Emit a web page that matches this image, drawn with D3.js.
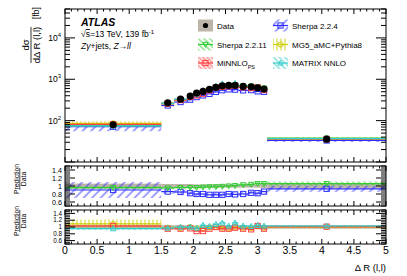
<!DOCTYPE html>
<html>
<head>
<meta charset="utf-8">
<script src="https://cdn.jsdelivr.net/npm/d3@7"></script>
<style>
  body { margin: 0; background: #fff; }
  text { font-family: "Liberation Sans", Arial, sans-serif; fill: #000; }
</style>
</head>
<body>
<script>
const width = 407;
const height = 276;

// binning in Delta R(l,l)
const binEdges = [0, 1.5, 1.7, 1.9, 2.0, 2.1, 2.2, 2.3, 2.4, 2.5, 2.6, 2.7, 2.85, 2.95, 3.05, 3.15, 5];

// measured cross section [fb] and relative uncertainty
const dataValues = [79, 270, 331, 392, 463, 509, 569, 636, 696, 712, 712, 673, 658, 622, 579, 35.6];
const dataErr = [0.06, 0.05, 0.05, 0.05, 0.04, 0.04, 0.04, 0.04, 0.04, 0.04, 0.04, 0.04, 0.04, 0.04, 0.05, 0.05];

// prediction / data ratios and relative band widths
const sherpa224Ratio = [0.90, 0.86, 0.85, 0.82, 0.80, 0.80, 0.78, 0.78, 0.78, 0.80, 0.79, 0.80, 0.83, 0.82, 0.86, 0.93];
const sherpa224Err = [0.22, 0.06, 0.06, 0.06, 0.06, 0.06, 0.06, 0.06, 0.06, 0.06, 0.06, 0.06, 0.06, 0.06, 0.06, 0.08];
const sherpa2211Ratio = [0.96, 0.95, 0.96, 0.96, 0.96, 0.97, 0.98, 0.98, 0.99, 1.00, 1.01, 1.03, 1.04, 1.06, 1.06, 1.06];
const sherpa2211Err = [0.04, 0.04, 0.04, 0.04, 0.04, 0.04, 0.04, 0.04, 0.04, 0.04, 0.04, 0.04, 0.04, 0.04, 0.04, 0.05];
const mg5Ratio = [1.09, 0.98, 0.97, 1.00, 0.96, 0.97, 0.99, 1.00, 0.98, 0.96, 1.00, 0.98, 0.97, 1.02, 0.98, 1.00];
const mg5Err = [0.12, 0.05, 0.05, 0.05, 0.05, 0.05, 0.05, 0.05, 0.05, 0.05, 0.05, 0.05, 0.05, 0.05, 0.05, 0.04];
const minnloRatio = [1.03, 0.95, 0.95, 0.96, 0.88, 0.88, 0.95, 1.00, 0.95, 0.95, 0.98, 0.95, 0.93, 1.03, 0.95, 1.01];
const minnloErr = [0.03, 0.03, 0.03, 0.03, 0.03, 0.03, 0.03, 0.03, 0.03, 0.03, 0.03, 0.03, 0.03, 0.03, 0.03, 0.03];
const matrixRatio = [0.95, 0.97, 1.00, 1.00, 0.97, 1.05, 1.02, 1.08, 1.12, 1.03, 1.12, 1.03, 1.02, 1.05, 1.03, 1.03];
const matrixErr = [0.04, 0.03, 0.03, 0.03, 0.03, 0.03, 0.03, 0.03, 0.03, 0.03, 0.03, 0.03, 0.03, 0.03, 0.03, 0.03];

const xTicks = [0, 0.5, 1, 1.5, 2, 2.5, 3, 3.5, 4, 4.5, 5];
const ratioTicks = [0.6, 0.8, 1, 1.2, 1.4];

const bins = dataValues.map((v, i) => ({
    lo: binEdges[i], hi: binEdges[i + 1], mid: (binEdges[i] + binEdges[i + 1]) / 2,
    v: v, e: dataErr[i]
}));

const svg = d3.select('body').append('svg')
    .attr('width', width)
    .attr('height', height);
const defs = svg.append('defs');

const xL = 65, xR = 386;
const x = d3.scaleLinear().domain([0, 5]).range([xL, xR]);
const yMain = d3.scaleLog().domain([10, 5e4]).range([162, 9]);
const yR1 = d3.scaleLinear().domain([0.5, 1.5]).range([206, 166]);
const yR2 = d3.scaleLinear().domain([0.5, 1.5]).range([244, 210]);

function addHatch(id, color, angle, step) {
    const p = defs.append('pattern')
        .attr('id', id)
        .attr('patternUnits', 'userSpaceOnUse')
        .attr('width', step)
        .attr('height', step)
        .attr('patternTransform', `rotate(${angle})`);
    p.append('line')
        .attr('x1', 1).attr('y1', 0)
        .attr('x2', 1).attr('y2', step)
        .attr('stroke', color)
        .attr('stroke-width', 0.9);
}

const models = [
    { name: 'Sherpa 2.2.4', ratio: sherpa224Ratio, err: sherpa224Err, color: '#2b2bff', hatch: 'h224', angle: 45, step: 6, marker: 'square', panel: 1 },
    { name: 'Sherpa 2.2.11', ratio: sherpa2211Ratio, err: sherpa2211Err, color: '#33cc33', hatch: 'h2211', angle: -45, step: 4, marker: 'tridown', panel: 1 },
    { name: 'MG5_aMC+Pythia8', ratio: mg5Ratio, err: mg5Err, color: '#cccc00', hatch: 'hmg5', angle: 0, step: 4, marker: 'circle', panel: 2 },
    { name: 'MiNNLO', ratio: minnloRatio, err: minnloErr, color: '#ff4040', hatch: 'hmin', angle: -45, step: 3, marker: 'square', panel: 2 },
    { name: 'MATRIX NNLO', ratio: matrixRatio, err: matrixErr, color: '#33cccc', hatch: 'hmat', angle: -45, step: 4, marker: 'triup', panel: 2 }
];
models.forEach(m => addHatch(m.hatch, m.color, m.angle, m.step));

['clipMain', 'clipR1', 'clipR2'].forEach((id, i) => {
    const ys = [yMain, yR1, yR2][i].range();
    defs.append('clipPath').attr('id', id).append('rect')
        .attr('x', xL).attr('y', ys[1]).attr('width', xR - xL).attr('height', ys[0] - ys[1]);
});

function drawMarker(g, type, cx, cy, color, s) {
    if (type === 'square') {
        g.append('rect').attr('x', cx - s).attr('y', cy - s).attr('width', 2 * s).attr('height', 2 * s)
            .attr('fill', 'none').attr('stroke', color).attr('stroke-width', 1);
    } else if (type === 'circle') {
        g.append('circle').attr('cx', cx).attr('cy', cy).attr('r', s)
            .attr('fill', 'none').attr('stroke', color).attr('stroke-width', 1);
    } else {
        const dir = type === 'triup' ? -1 : 1;
        const pts = [[cx, cy + dir * s * 1.1], [cx - s, cy - dir * s * 0.8], [cx + s, cy - dir * s * 0.8]];
        g.append('path').attr('d', d3.line()(pts) + 'Z')
            .attr('fill', 'none').attr('stroke', color).attr('stroke-width', 1);
    }
}

// ---- main panel ----
const gMain = svg.append('g').attr('clip-path', 'url(#clipMain)');

gMain.selectAll('rect.dband').data(bins).join('rect')
    .attr('x', d => x(d.lo)).attr('width', d => x(d.hi) - x(d.lo))
    .attr('y', d => yMain(d.v * (1 + d.e)))
    .attr('height', d => yMain(d.v * (1 - d.e)) - yMain(d.v * (1 + d.e)))
    .attr('fill', '#bdb5a9');

models.forEach(m => {
    const pb = bins.map((b, i) => ({ lo: b.lo, hi: b.hi, mid: b.mid, v: b.v * m.ratio[i], e: m.err[i] }));
    gMain.append('g').selectAll('rect').data(pb).join('rect')
        .attr('x', d => x(d.lo)).attr('width', d => x(d.hi) - x(d.lo))
        .attr('y', d => yMain(d.v * (1 + d.e)))
        .attr('height', d => yMain(d.v * (1 - d.e)) - yMain(d.v * (1 + d.e)))
        .attr('fill', `url(#${m.hatch})`);
    gMain.append('g').selectAll('line').data(pb).join('line')
        .attr('x1', d => x(d.lo)).attr('x2', d => x(d.hi))
        .attr('y1', d => yMain(d.v)).attr('y2', d => yMain(d.v))
        .attr('stroke', m.color).attr('stroke-width', 1.2);
    const mg = gMain.append('g');
    pb.forEach(d => drawMarker(mg, m.marker, x(d.mid), yMain(d.v), m.color, 2.6));
});

gMain.selectAll('circle.data').data(bins).join('circle')
    .attr('cx', d => x(d.mid)).attr('cy', d => yMain(d.v)).attr('r', 3.6)
    .attr('fill', '#000');

// ---- ratio panels ----
function drawRatio(y, clipId, list) {
    const g = svg.append('g').attr('clip-path', `url(#${clipId})`);
    g.selectAll('rect.dband').data(bins).join('rect')
        .attr('x', d => x(d.lo)).attr('width', d => x(d.hi) - x(d.lo))
        .attr('y', d => y(1 + d.e)).attr('height', d => y(1 - d.e) - y(1 + d.e))
        .attr('fill', '#bdb5a9');
    list.forEach(m => {
        const pb = bins.map((b, i) => ({ lo: b.lo, hi: b.hi, mid: b.mid, r: m.ratio[i], e: m.err[i] }));
        g.append('g').selectAll('rect').data(pb).join('rect')
            .attr('x', d => x(d.lo)).attr('width', d => x(d.hi) - x(d.lo))
            .attr('y', d => y(d.r * (1 + d.e))).attr('height', d => y(d.r * (1 - d.e)) - y(d.r * (1 + d.e)))
            .attr('fill', `url(#${m.hatch})`);
        g.append('g').selectAll('line').data(pb).join('line')
            .attr('x1', d => x(d.lo)).attr('x2', d => x(d.hi))
            .attr('y1', d => y(d.r)).attr('y2', d => y(d.r))
            .attr('stroke', m.color).attr('stroke-width', 1.2);
        const mg = g.append('g');
        pb.forEach(d => drawMarker(mg, m.marker, x(d.mid), y(d.r), m.color, 2.6));
    });
}
drawRatio(yR1, 'clipR1', models.filter(m => m.panel === 1));
drawRatio(yR2, 'clipR2', models.filter(m => m.panel === 2));

// ---- frames and ticks ----
function drawFrame(y, yTickFn) {
    const [yb, yt] = y.range();
    const g = svg.append('g').attr('stroke', '#000').attr('stroke-width', 1);
    g.append('rect').attr('x', xL).attr('y', yt).attr('width', xR - xL).attr('height', yb - yt)
        .attr('fill', 'none');
    d3.range(0, 50.5, 1).forEach(k => {
        const v = k / 10;
        const len = k % 5 === 0 ? 5 : 2.5;
        g.append('line').attr('x1', x(v)).attr('x2', x(v)).attr('y1', yb).attr('y2', yb - len);
        g.append('line').attr('x1', x(v)).attr('x2', x(v)).attr('y1', yt).attr('y2', yt + len);
    });
    yTickFn(g, yb, yt);
}

drawFrame(yMain, g => {
    [1, 10, 100, 1000, 10000].forEach(dec => {
        d3.range(1, 10).forEach(k => {
            const v = dec * k;
            if (v < 10 || v > 5e4) return;
            const len = k === 1 ? 10 : 5;
            g.append('line').attr('x1', xL).attr('x2', xL + len).attr('y1', yMain(v)).attr('y2', yMain(v));
            g.append('line').attr('x1', xR).attr('x2', xR - len).attr('y1', yMain(v)).attr('y2', yMain(v));
        });
    });
});

function ratioTicksFn(y) {
    return g => {
        d3.range(10, 31).forEach(k => {
            const v = k / 20;
            const len = k % 4 === 0 ? 10 : 5;
            g.append('line').attr('x1', xL).attr('x2', xL + len).attr('y1', y(v)).attr('y2', y(v));
            g.append('line').attr('x1', xR).attr('x2', xR - len).attr('y1', y(v)).attr('y2', y(v));
        });
    };
}
drawFrame(yR1, ratioTicksFn(yR1));
drawFrame(yR2, ratioTicksFn(yR2));

// ---- tick labels ----
[2, 3, 4].forEach(p => {
    const t = svg.append('text').attr('x', 61).attr('y', yMain(Math.pow(10, p)) + 3)
        .attr('text-anchor', 'end').attr('font-size', 8.5);
    t.append('tspan').text('10');
    t.append('tspan').attr('dy', -4).attr('font-size', 6).text(p);
});

[[yR1, 7.2], [yR2, 6.3]].forEach(([y, fs]) => {
    svg.append('g').selectAll('text').data(ratioTicks).join('text')
        .attr('x', 62).attr('y', d => y(d) + fs * 0.36)
        .attr('text-anchor', 'end').attr('font-size', fs)
        .text(d => d);
});

svg.append('g').selectAll('text').data(xTicks).join('text')
    .attr('x', d => x(d)).attr('y', 254)
    .attr('text-anchor', 'middle').attr('font-size', 10.5)
    .text(d => d);

// ---- axis titles ----
svg.append('text').attr('x', 386).attr('y', 271).attr('text-anchor', 'end').attr('font-size', 9.5)
    .text('Δ R (l,l)');

function rotText(tx, ty, str, size) {
    return svg.append('text').attr('transform', `translate(${tx},${ty}) rotate(-90)`)
        .attr('text-anchor', 'middle').attr('font-size', size).text(str);
}
rotText(29, 45, 'dσ', 9.5);
svg.append('line').attr('x1', 31).attr('x2', 31).attr('y1', 27).attr('y2', 63).attr('stroke', '#000').attr('stroke-width', 0.8);
rotText(39.5, 45, 'dΔ R (l,l)', 9.5);
rotText(39, 13, '[fb]', 8.5);

[179, 221].forEach(cy => {
    rotText(18.5, cy, 'Prediction', 6.8);
    svg.append('line').attr('x1', 19.8).attr('x2', 19.8).attr('y1', cy - 11).attr('y2', cy + 11)
        .attr('stroke', '#000').attr('stroke-width', 0.7);
    rotText(26, cy, 'Data', 6.8);
});

// ---- labels ----
svg.append('text').attr('x', 81).attr('y', 26).attr('font-size', 10.5)
    .attr('font-weight', 'bold').attr('font-style', 'italic').text('ATLAS');
const l2 = svg.append('text').attr('x', 81).attr('y', 37).attr('font-size', 8.5);
l2.append('tspan').text('√');
l2.append('tspan').attr('text-decoration', 'overline').text('s');
l2.append('tspan').text('=13 TeV, 139 fb');
l2.append('tspan').attr('dy', -3.5).attr('font-size', 6).text('-1');
const l3 = svg.append('text').attr('x', 81).attr('y', 48.5).attr('font-size', 8.5);
l3.append('tspan').attr('font-style', 'italic').text('Zγ');
l3.append('tspan').text('+jets,  ');
l3.append('tspan').attr('font-style', 'italic').text('Z→ll');

// ---- legend ----
const legendItems = [
    { label: 'Data', col: 0, row: 0 },
    { label: 'Sherpa 2.2.4', col: 1, row: 0, m: models[0] },
    { label: 'Sherpa 2.2.11', col: 0, row: 1, m: models[1] },
    { label: 'MG5_aMC+Pythia8', col: 1, row: 1, m: models[2] },
    { label: 'MiNNLO', sub: 'PS', col: 0, row: 2, m: models[3] },
    { label: 'MATRIX NNLO', col: 1, row: 2, m: models[4] }
];
const legX = [198, 273], legY = [25.5, 44.5, 63];
legendItems.forEach(it => {
    const bx = legX[it.col], cy = legY[it.row];
    const g = svg.append('g');
    if (!it.m) {
        g.append('rect').attr('x', bx).attr('y', cy - 6).attr('width', 15).attr('height', 12).attr('fill', '#bdb5a9');
        g.append('circle').attr('cx', bx + 7.5).attr('cy', cy).attr('r', 2.6).attr('fill', '#000');
    } else {
        g.append('rect').attr('x', bx).attr('y', cy - 6).attr('width', 15).attr('height', 12).attr('fill', `url(#${it.m.hatch})`);
        g.append('line').attr('x1', bx).attr('x2', bx + 15).attr('y1', cy).attr('y2', cy)
            .attr('stroke', it.m.color).attr('stroke-width', 1.2);
        drawMarker(g, it.m.marker, bx + 7.5, cy, it.m.color, 2.6);
    }
    const t = svg.append('text').attr('x', bx + 19).attr('y', cy + 3).attr('font-size', 8).text(it.label);
    if (it.sub) t.append('tspan').attr('dy', 2.5).attr('font-size', 5.5).text(it.sub);
});
</script>
</body>
</html>
